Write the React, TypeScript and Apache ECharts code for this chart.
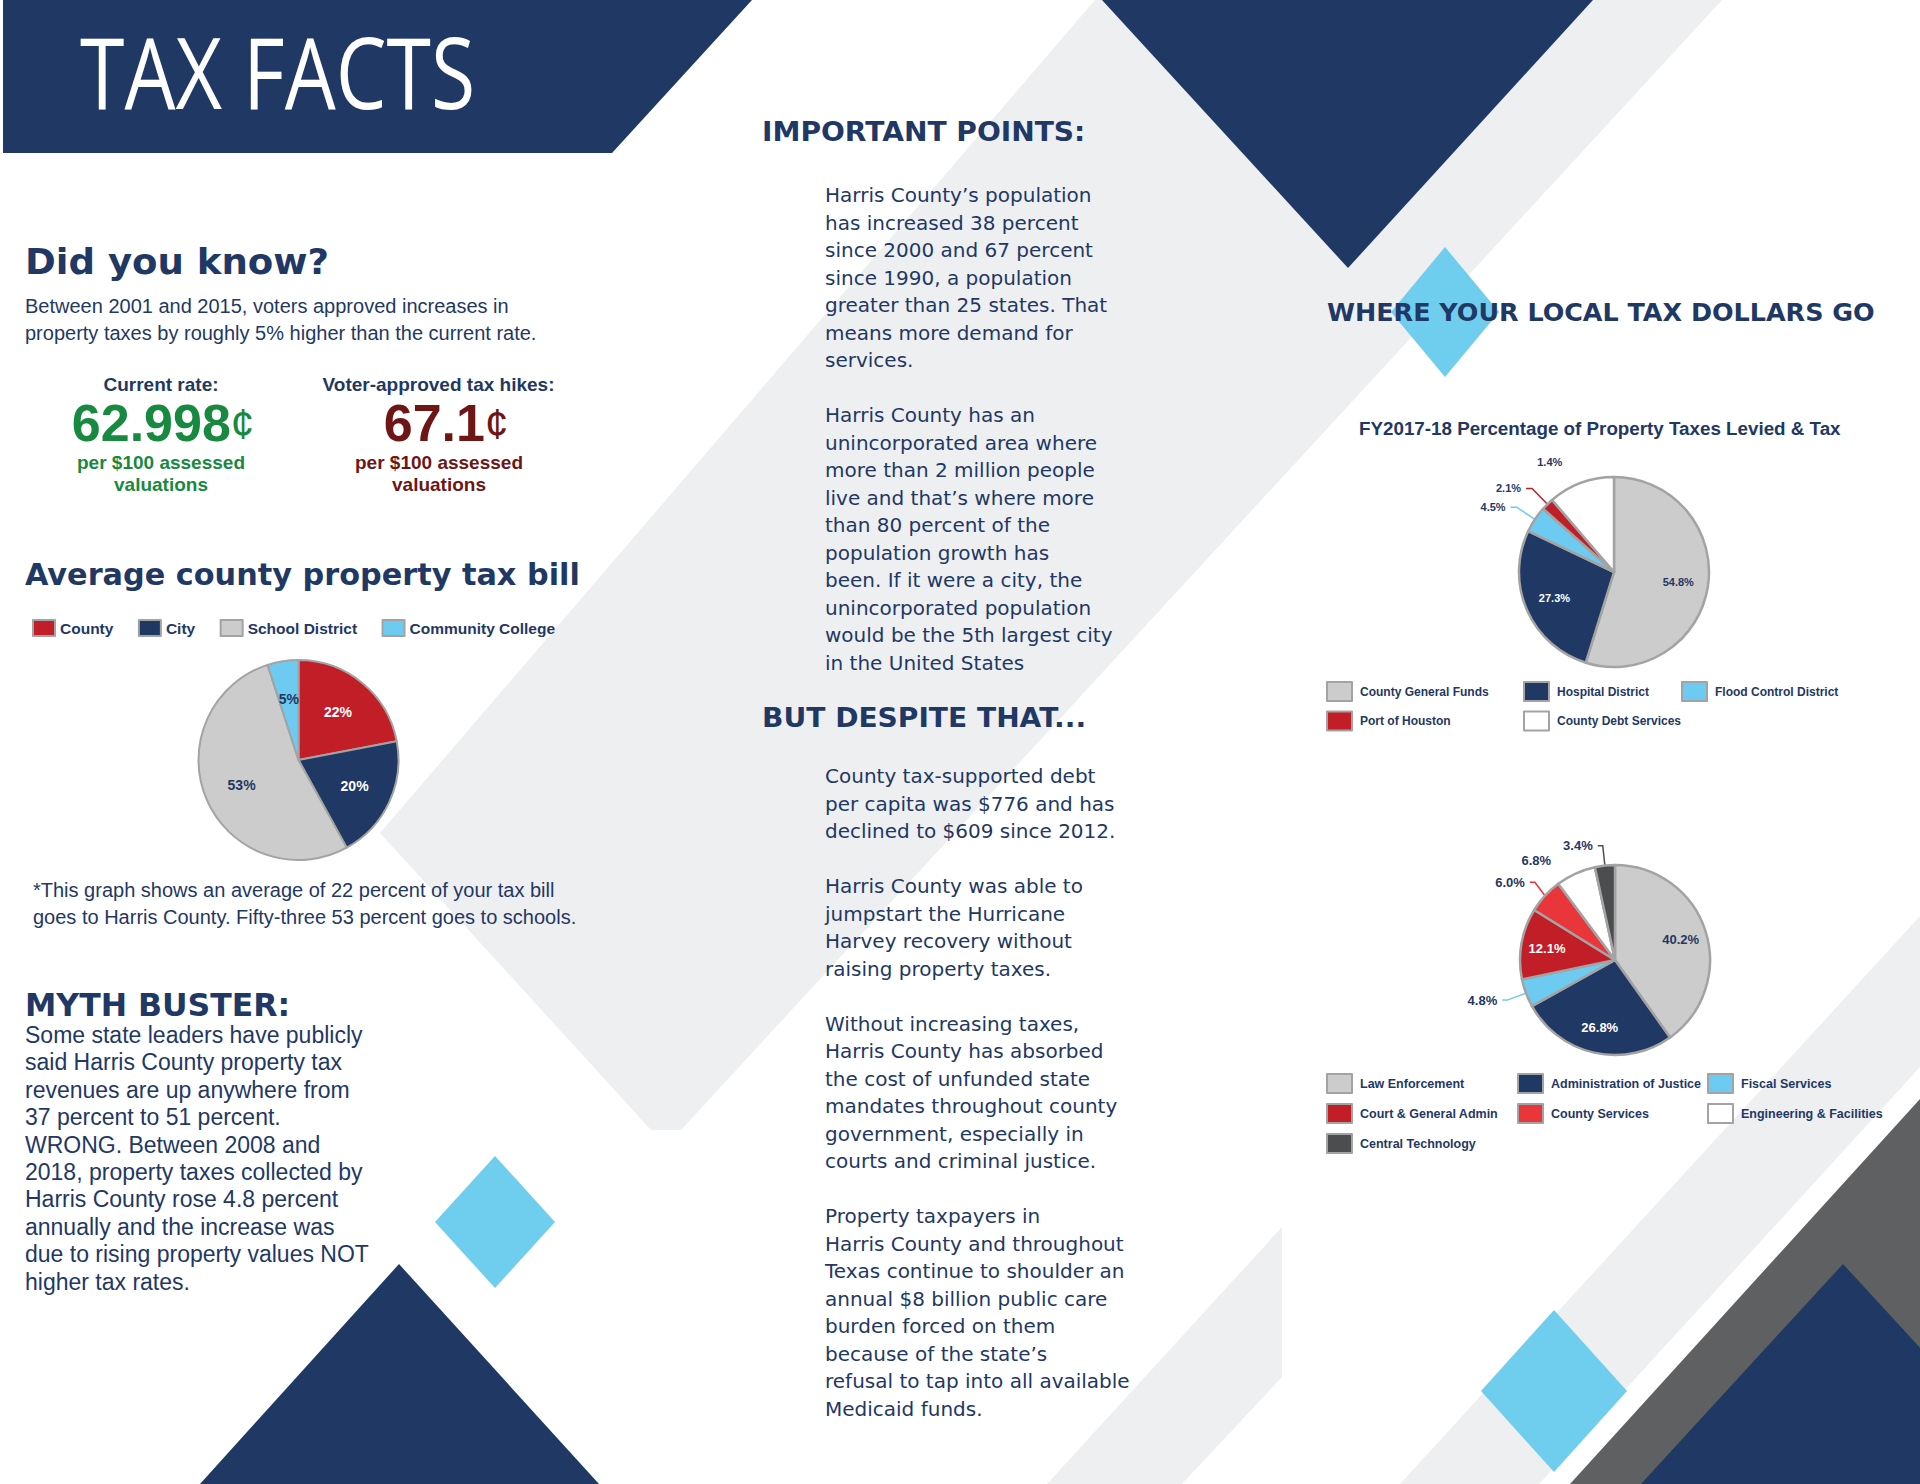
import React, { useEffect, useRef } from 'react';
import * as echarts from 'echarts';

// ---------- DATA ----------
const billCategories = ['County', 'City', 'School District', 'Community College'];
const billValues = [22, 20, 53, 5];
const billLabels = ['22%', '20%', '53%', '5%'];

const levyCategories = ['County General Funds', 'Hospital District', 'Flood Control District', 'Port of Houston', 'County Debt Services'];
const levyValues = [54.8, 27.3, 4.5, 2.1, 11.3];
const levyLabels = ['54.8%', '27.3%', '4.5%', '2.1%', '1.4%'];

const spendCategories = ['Law Enforcement', 'Administration of Justice', 'Fiscal Services', 'Court & General Admin', 'County Services', 'Engineering & Facilities', 'Central Technology'];
const spendValues = [40.2, 26.8, 4.8, 12.1, 6.0, 6.8, 3.4];
const spendLabels = ['40.2%', '26.8%', '4.8%', '12.1%', '6.0%', '6.8%', '3.4%'];

const currentRate = '62.998';
const voterRate = '67.1';

// ---------- STYLE ----------
const NAVY = '#1F3864';
const RED = '#C11E27';
const BRIGHT_RED = '#E8363B';
const GRAY = '#CCCCCC';
const BLUE = '#6DCBF2';
const WHITE = '#FFFFFF';
const DARK = '#4B4D4F';
const BAND = '#EEEFF1';
const DIAMOND = '#6FCDEE';
const SLATE = '#5F6062';
const GREEN = '#178A40';
const MAROON = '#6E1616';

const billColors = [RED, NAVY, GRAY, BLUE];
const billLabelColors = [WHITE, WHITE, NAVY, NAVY];
const levyColors = [GRAY, NAVY, BLUE, RED, WHITE];
const levyInside = [true, true, false, false, false];
const levyLabelColors = [NAVY, WHITE, NAVY, NAVY, NAVY];
const spendColors = [GRAY, NAVY, BLUE, RED, BRIGHT_RED, WHITE, DARK];
const spendInside = [true, true, false, true, false, false, false];
const spendLabelColors = [NAVY, WHITE, NAVY, WHITE, NAVY, NAVY, NAVY];

const LIB = '"Liberation Sans", Arial, sans-serif';
const DEJA = '"DejaVu Sans", sans-serif';

const introLines = [
  'Between 2001 and 2015, voters approved increases in',
  'property taxes by roughly 5% higher than the current rate.',
];
const footLines = [
  '*This graph shows an average of 22 percent of your tax bill',
  'goes to Harris County. Fifty-three 53 percent goes to schools.',
];
const mythLines = [
  'Some state leaders have publicly',
  'said Harris County property tax',
  'revenues are up anywhere from',
  '37 percent to 51 percent.',
  'WRONG. Between 2008 and',
  '2018, property taxes collected by',
  'Harris County rose 4.8 percent',
  'annually and the increase was',
  'due to rising property values NOT',
  'higher tax rates.',
];
const pointsLines = [
  'Harris County’s population',
  'has increased 38 percent',
  'since 2000 and 67 percent',
  'since 1990, a population',
  'greater than 25 states. That',
  'means more demand for',
  'services.',
  '',
  'Harris County has an',
  'unincorporated area where',
  'more than 2 million people',
  'live and that’s where more',
  'than 80 percent of the',
  'population growth has',
  'been. If it were a city, the',
  'unincorporated population',
  'would be the 5th largest city',
  'in the United States',
];
const despiteLines = [
  'County tax-supported debt',
  'per capita was $776 and has',
  'declined to $609 since 2012.',
  '',
  'Harris County was able to',
  'jumpstart the Hurricane',
  'Harvey recovery without',
  'raising property taxes.',
  '',
  'Without increasing taxes,',
  'Harris County has absorbed',
  'the cost of unfunded state',
  'mandates throughout county',
  'government, especially in',
  'courts and criminal justice.',
  '',
  'Property taxpayers in',
  'Harris County and throughout',
  'Texas continue to shoulder an',
  'annual $8 billion public care',
  'burden forced on them',
  'because of the state’s',
  'refusal to tap into all available',
  'Medicaid funds.',
];

// ---------- HELPERS ----------
function txt(
  x: number, y: number, text: string, size: number, family: string, weight: string,
  fill: string, align = 'left', vAlign = 'middle', lineHeight?: number, extra: any = {}, rich?: any
) {
  const style: any = {
    text, fontSize: size, fontFamily: family, fontWeight: weight, fill,
    align, verticalAlign: vAlign, textAlign: align, textVerticalAlign: vAlign,
  };
  if (lineHeight) style.lineHeight = lineHeight;
  if (rich) style.rich = rich;
  return { type: 'text', x, y, z: 100, style, ...extra };
}

function poly(points: number[][], fill: string, z = 0) {
  return { type: 'polygon', z, silent: true, shape: { points }, style: { fill } };
}

function diamond(cx: number, cy: number, hw: number, hh: number) {
  return poly([[cx, cy - hh], [cx + hw, cy], [cx, cy + hh], [cx - hw, cy]], DIAMOND, 1);
}

function realPie(center: number[], radius: number, names: string[], values: number[], colors: string[],
  labels: string[], inside: boolean[], border: number, fontSize: number, len1: number, len2: number) {
  return {
    type: 'pie', center, radius, startAngle: 90, clockwise: true,
    avoidLabelOverlap: true, emphasis: { disabled: true },
    itemStyle: { borderColor: '#A3A3A3', borderWidth: border },
    data: names.map((n, i) => ({
      name: n, value: values[i],
      itemStyle: { color: colors[i] },
      label: inside[i]
        ? { show: false }
        : { show: true, position: 'outside', formatter: labels[i], color: NAVY, fontSize, fontWeight: 'bold', fontFamily: LIB },
      labelLine: inside[i]
        ? { show: false }
        : { show: true, length: len1, length2: len2, smooth: false, lineStyle: { width: 1.5 } },
    })),
  };
}

function labelPie(center: number[], radius: number, names: string[], values: number[],
  labels: string[], inside: boolean[], labelColors: string[], fontSize: number) {
  return {
    type: 'pie', center, radius, startAngle: 90, clockwise: true, silent: true,
    avoidLabelOverlap: false, emphasis: { disabled: true },
    itemStyle: { color: 'rgba(0,0,0,0)', borderWidth: 0 },
    labelLine: { show: false },
    data: names.map((n, i) => ({
      name: n + ' ·', value: values[i],
      itemStyle: { color: 'rgba(0,0,0,0)' },
      label: inside[i]
        ? { show: true, position: 'inside', formatter: labels[i], color: labelColors[i], fontSize, fontWeight: 'bold', fontFamily: LIB }
        : { show: false },
    })),
  };
}

function legend(left: number, top: number, names: string[], orient: string, w: number, h: number,
  gap: number, fontSize: number, textPad: number) {
  return {
    orient, left, top, padding: 0, itemWidth: w, itemHeight: h, itemGap: gap,
    icon: 'rect', selectedMode: false, data: names,
    textStyle: { color: NAVY, fontFamily: LIB, fontWeight: 'bold', fontSize, padding: [0, 0, 0, textPad] },
  };
}

export default function App() {
  const ref = useRef<HTMLDivElement>(null);

  useEffect(() => {
    if (!ref.current) return;
    const chart = echarts.init(ref.current, undefined, { renderer: 'svg' });

    const centRich = (color: string) => ({
      n: { fontSize: 52, fontFamily: LIB, fontWeight: 'bold', fill: color, color, lineHeight: 36 },
      c: { fontSize: 42, fontFamily: LIB, fontWeight: 'normal', fill: color, color, lineHeight: 36 },
    });

    const graphics: any[] = [
      // background shapes
      poly([[1095, 0], [1722, 0], [681, 1130], [651, 1130], [380, 833]], BAND),
      poly([[1282, 1227], [1282, 1377], [1182, 1484], [1047, 1484]], BAND),
      poly([[1920, 916], [1920, 1067], [1539, 1484], [1400, 1484]], BAND),
      poly([[1920, 1099], [1920, 1484], [1570, 1484]], SLATE),
      poly([[3, 0], [752, 0], [612, 153], [3, 153]], NAVY),
      poly([[1102, 0], [1593, 0], [1348, 268]], NAVY),
      poly([[399, 1264], [200, 1484], [599, 1484]], NAVY),
      poly([[1843, 1264], [1641, 1484], [2045, 1484]], NAVY),
      diamond(495, 1222, 60, 66),
      diamond(1445, 312, 54, 65),
      diamond(1554, 1391, 73, 81),

      // texts — left panel
      txt(80, 70, 'TAX FACTS', 99, '"Open Sans", sans-serif', 'normal', WHITE, 'left', 'middle', undefined, { scaleX: 0.815 }),
      txt(25, 262, 'Did you know?', 36, DEJA, 'bold', NAVY, 'left', 'middle', undefined, { scaleX: 1.03 }),
      txt(25, 292.5, introLines.join('\n'), 20, LIB, 'normal', NAVY, 'left', 'top', 27),
      txt(161, 384, 'Current rate:', 19, LIB, 'bold', NAVY, 'center'),
      txt(438.5, 384, 'Voter-approved tax hikes:', 19, LIB, 'bold', NAVY, 'center'),
      txt(163, 423, '{n|' + currentRate + '}{c|¢}', 52, LIB, 'bold', GREEN, 'center', 'middle', 36, {}, centRich(GREEN)),
      txt(446, 423, '{n|' + voterRate + '}{c|¢}', 52, LIB, 'bold', MAROON, 'center', 'middle', 36, {}, centRich(MAROON)),
      txt(161, 451, 'per $100 assessed\nvaluations', 19, LIB, 'bold', GREEN, 'center', 'top', 22.5),
      txt(439, 451, 'per $100 assessed\nvaluations', 19, LIB, 'bold', MAROON, 'center', 'top', 22.5),
      txt(25, 574, 'Average county property tax bill', 30.3, DEJA, 'bold', NAVY),
      txt(33, 876.5, footLines.join('\n'), 20, LIB, 'normal', NAVY, 'left', 'top', 27),
      txt(25, 1005, 'MYTH BUSTER:', 31.5, DEJA, 'bold', NAVY),
      txt(25, 1021.3, mythLines.join('\n'), 23, LIB, 'normal', NAVY, 'left', 'top', 27.4),

      // middle panel
      txt(762, 131.5, 'IMPORTANT POINTS:', 26.6, DEJA, 'bold', NAVY, 'left', 'middle', undefined, { scaleX: 1.056 }),
      txt(825, 181.25, pointsLines.join('\n'), 20, DEJA, 'normal', NAVY, 'left', 'top', 27.5),
      txt(762, 717.5, 'BUT DESPITE THAT...', 26.6, DEJA, 'bold', NAVY, 'left', 'middle', undefined, { scaleX: 1.056 }),
      txt(825, 762.25, despiteLines.join('\n'), 20, DEJA, 'normal', NAVY, 'left', 'top', 27.5),

      // right panel
      txt(1327, 313, 'WHERE YOUR LOCAL TAX DOLLARS GO', 25, DEJA, 'bold', NAVY, 'left', 'middle', undefined, { scaleX: 1.016 }),
      txt(1359, 428, 'FY2017-18 Percentage of Property Taxes Levied & Tax', 18.8, LIB, 'bold', NAVY),
    ];

    chart.setOption({
      animation: false,
      backgroundColor: '#FFFFFF',
      graphic: { elements: graphics },
      legend: [
        legend(32, 619, billCategories, 'horizontal', 22, 16, 24.5, 15.5, 0),
        legend(1326, 681, [levyCategories[0], levyCategories[3]], 'vertical', 25, 19, 8.5, 12, 3),
        legend(1523, 681, [levyCategories[1], levyCategories[4]], 'vertical', 25, 19, 8.5, 12, 3),
        legend(1681, 681, [levyCategories[2]], 'vertical', 25, 19, 8.5, 12, 3),
        legend(1326, 1073, [spendCategories[0], spendCategories[3], spendCategories[6]], 'vertical', 25, 19, 9, 12.5, 3),
        legend(1517, 1073, [spendCategories[1], spendCategories[4]], 'vertical', 25, 19, 9, 12.5, 3),
        legend(1707, 1073, [spendCategories[2], spendCategories[5]], 'vertical', 25, 19, 9, 12.5, 3),
      ],
      series: [
        realPie([298.5, 760], 100, billCategories, billValues, billColors, billLabels,
          billCategories.map(() => true), 2, 14, 8, 6),
        realPie([1614, 572], 95, levyCategories, levyValues, levyColors, levyLabels, levyInside, 2.5, 11, 22, 6),
        realPie([1615, 960], 95, spendCategories, spendValues, spendColors, spendLabels, spendInside, 2.5, 13, 20, 5),
        labelPie([298.5, 760], 118, billCategories, billValues, billLabels,
          billCategories.map(() => true), billLabelColors, 14),
        labelPie([1614, 572], 124, levyCategories, levyValues, levyLabels, levyInside, levyLabelColors, 11),
        labelPie([1615, 960], 132, spendCategories, spendValues, spendLabels, spendInside, spendLabelColors, 13),
      ],
    });

    return () => chart.dispose();
  }, []);

  return (
    <div
      ref={ref}
      style={{ position: 'fixed', left: 0, top: 0, width: 1920, height: 1484, background: '#fff' }}
    />
  );
}
